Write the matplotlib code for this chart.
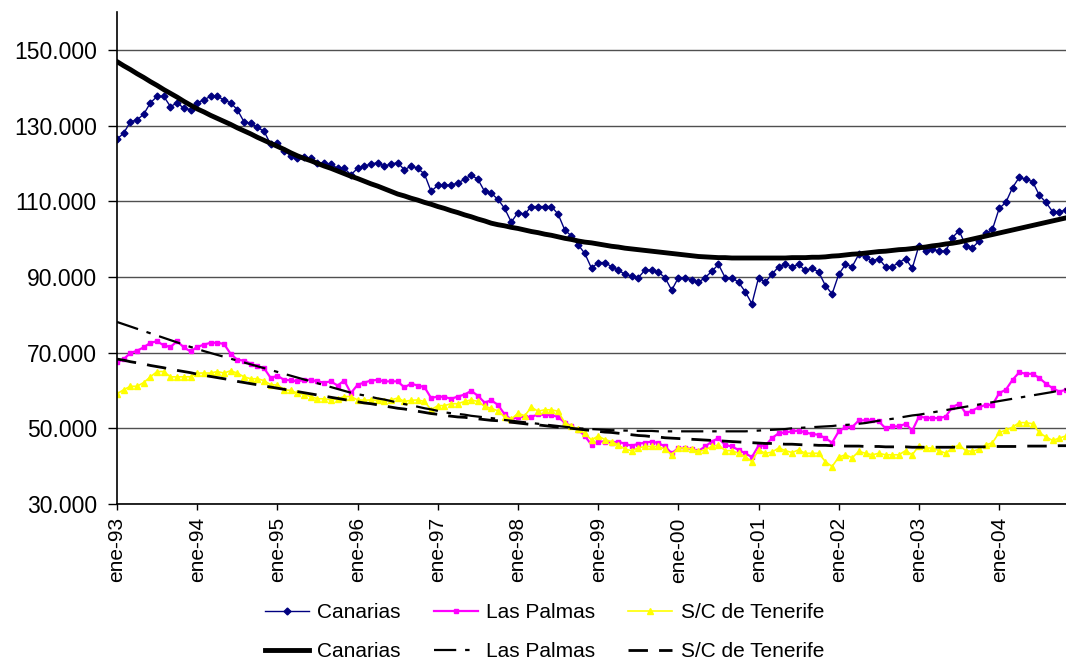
import matplotlib
matplotlib.use("Agg")
import matplotlib.pyplot as plt
import numpy as np

plt.rcParams['font.family'] = ['Liberation Sans', 'DejaVu Sans']

# monthly values (thousands), ene-93 .. nov-04
canarias = [126.4, 128.0, 131.0, 131.5, 133.0, 136.0, 137.7, 137.7, 135.0, 136.0, 134.6, 134.2,
            136.0, 136.8, 137.7, 137.7, 136.8, 136.0, 134.2, 131.0, 130.6, 129.5, 128.5, 125.0,
            125.4, 123.4, 122.0, 121.3, 121.8, 121.3, 120.2, 120.0, 119.8, 118.7, 118.7, 117.0,
            118.7, 119.3, 119.8, 120.2, 119.3, 119.8, 120.2, 118.3, 119.3, 118.7, 117.2, 112.6,
            114.2, 114.2, 114.3, 114.8, 115.8, 116.9, 115.8, 112.6, 112.1, 110.5, 108.1, 104.5,
            107.0, 106.6, 108.6, 108.6, 108.6, 108.6, 106.6, 102.4, 100.8, 98.5, 96.2, 92.3,
            93.8, 93.8, 92.7, 91.8, 90.7, 90.2, 89.8, 91.8, 91.8, 91.3, 89.8, 86.5,
            89.8, 89.8, 89.2, 88.6, 89.8, 91.5, 93.3, 89.8, 89.8, 88.6, 86.1, 82.9,
            89.8, 88.6, 90.7, 92.7, 93.3, 92.7, 93.3, 91.7, 92.3, 91.3, 87.7, 85.5,
            90.7, 93.3, 92.7, 96.0, 95.2, 94.2, 94.8, 92.7, 92.7, 93.8, 94.8, 92.3,
            98.3, 96.8, 97.3, 96.8, 96.8, 100.4, 102.2, 98.3, 97.7, 99.5, 101.5, 102.6,
            108.1, 109.7, 113.6, 116.3, 115.8, 115.2, 111.6, 109.7, 107.2, 107.2, 107.7]

las_palmas = [67.4, 68.3, 69.9, 70.5, 71.4, 72.6, 73.0, 71.9, 71.5, 73.0, 71.4, 70.3,
              71.5, 72.1, 72.6, 72.6, 72.3, 69.7, 68.1, 67.9, 67.1, 66.4, 65.9, 63.3,
              63.9, 62.8, 62.7, 62.4, 62.8, 62.8, 62.4, 62.1, 62.4, 61.3, 62.6, 59.3,
              61.5, 62.1, 62.6, 62.8, 62.4, 62.4, 62.4, 60.8, 61.8, 61.3, 60.9, 58.0,
              58.4, 58.3, 57.8, 58.4, 58.9, 59.9, 58.6, 56.8, 57.4, 56.2, 53.7, 52.3,
              53.0, 53.0, 53.0, 53.7, 53.5, 53.5, 53.0, 51.5, 50.5, 49.6, 48.0, 45.6,
              46.5, 46.5, 46.2, 46.5, 45.9, 45.4, 45.9, 46.2, 46.5, 46.1, 45.2, 43.4,
              44.8, 44.8, 44.5, 44.0, 45.2, 46.5, 47.4, 45.6, 45.2, 44.3, 43.4, 42.4,
              45.4, 45.4, 47.4, 48.7, 48.9, 49.2, 49.4, 48.9, 48.5, 48.3, 47.4, 46.2,
              49.2, 50.3, 50.3, 52.1, 52.1, 52.1, 51.8, 50.0, 50.5, 50.5, 51.2, 49.4,
              53.1, 52.8, 52.7, 52.7, 53.1, 55.6, 56.5, 54.0, 54.7, 55.6, 56.2, 56.2,
              59.3, 60.2, 62.8, 64.8, 64.4, 64.4, 63.3, 61.8, 60.6, 59.7, 60.2]

tenerife = [59.1, 60.2, 61.1, 61.1, 62.1, 63.6, 65.0, 65.0, 63.6, 63.6, 63.6, 63.6,
            64.6, 64.6, 64.6, 65.0, 64.6, 65.2, 64.6, 63.6, 63.1, 63.1, 62.6, 61.5,
            61.5, 60.2, 60.0, 59.3, 58.9, 58.4, 57.8, 57.8, 57.5, 57.8, 58.4, 58.4,
            57.5, 57.4, 57.5, 57.4, 57.1, 57.5, 58.0, 57.1, 57.4, 57.5, 57.1, 54.9,
            56.0, 56.0, 56.5, 56.5, 57.1, 57.5, 57.1, 55.8, 55.3, 54.6, 53.0, 52.4,
            54.0, 53.3, 55.6, 54.5, 54.9, 54.9, 54.5, 51.5, 50.5, 49.8, 48.7, 46.9,
            48.0, 47.0, 46.5, 45.6, 44.5, 44.1, 44.8, 45.2, 45.2, 45.2, 44.5, 43.0,
            44.8, 44.8, 44.5, 43.9, 44.3, 45.2, 45.6, 44.1, 44.1, 43.4, 42.5, 41.2,
            44.3, 43.4, 43.7, 44.8, 44.1, 43.6, 44.3, 43.4, 43.4, 43.4, 41.2, 39.9,
            42.4, 43.0, 42.2, 43.9, 43.4, 43.0, 43.4, 43.0, 43.0, 43.0, 44.1, 43.0,
            45.4, 44.8, 44.8, 44.1, 43.4, 44.8, 45.6, 44.1, 43.9, 44.5, 45.6, 46.2,
            48.9, 49.5, 50.3, 51.5, 51.5, 51.2, 48.9, 47.7, 46.8, 47.4, 48.0]

# trend series (thousands)
canarias_trend = [146.9, 145.8, 144.8, 143.7, 142.7, 141.6, 140.6, 139.5, 138.5, 137.5, 136.4, 135.4,
                  134.4, 133.6, 132.7, 131.9, 131.1, 130.3, 129.4, 128.6, 127.8, 126.9, 126.1, 125.3,
                  124.5, 123.7, 122.8, 122.0, 121.3, 120.7, 120.0, 119.3, 118.7, 118.0, 117.3, 116.6,
                  116.0, 115.3, 114.6, 114.0, 113.3, 112.6, 111.9, 111.4, 110.8, 110.3, 109.7, 109.2,
                  108.6, 108.1, 107.5, 107.0, 106.4, 105.9, 105.3, 104.8, 104.2, 103.8, 103.5, 103.1,
                  102.8, 102.4, 102.0, 101.7, 101.3, 101.0, 100.6, 100.2, 99.9, 99.5, 99.2, 99.0,
                  98.7, 98.4, 98.1, 97.9, 97.6, 97.4, 97.2, 97.0, 96.8, 96.6, 96.4, 96.2,
                  96.0, 95.8, 95.6, 95.4, 95.3, 95.2, 95.1, 95.1, 95.0, 95.0, 95.0, 95.0,
                  95.0, 95.0, 95.0, 95.0, 95.0, 95.1, 95.1, 95.1, 95.2, 95.2, 95.3, 95.5,
                  95.6, 95.8, 96.0, 96.1, 96.3, 96.5, 96.7, 96.8, 97.0, 97.2, 97.3, 97.5,
                  97.7, 97.9, 98.2, 98.4, 98.7, 98.9, 99.2, 99.6, 100.0, 100.4, 100.8, 101.2,
                  101.6, 102.0, 102.4, 102.8, 103.2, 103.6, 104.0, 104.4, 104.8, 105.2, 105.6]

las_palmas_trend = [78.1, 77.5, 76.9, 76.3, 75.7, 75.1, 74.5, 73.9, 73.3, 72.7, 72.1, 71.5,
                    71.0, 70.4, 69.9, 69.4, 68.9, 68.4, 67.9, 67.4, 66.9, 66.4, 65.9, 65.4,
                    64.9, 64.4, 63.9, 63.4, 62.9, 62.4, 61.9, 61.4, 60.9, 60.4, 59.9, 59.4,
                    59.0, 58.7, 58.3, 57.9, 57.6, 57.2, 56.8, 56.4, 56.1, 55.7, 55.3, 55.0,
                    54.6, 54.2, 54.0, 53.8, 53.6, 53.3, 53.1, 52.9, 52.7, 52.5, 52.2, 52.0,
                    51.8, 51.6, 51.4, 51.2, 51.0, 50.8, 50.6, 50.4, 50.2, 50.0, 49.9, 49.8,
                    49.7, 49.6, 49.5, 49.5, 49.4, 49.4, 49.3, 49.3, 49.3, 49.2, 49.2, 49.2,
                    49.2, 49.2, 49.2, 49.2, 49.2, 49.2, 49.2, 49.2, 49.2, 49.2, 49.2, 49.3,
                    49.4, 49.5, 49.6, 49.7, 49.8, 50.0, 50.1, 50.2, 50.3, 50.4, 50.5, 50.6,
                    50.8, 50.9, 51.0, 51.2, 51.4, 51.7, 52.0, 52.3, 52.5, 52.8, 53.1, 53.4,
                    53.6, 53.9, 54.2, 54.5, 54.8, 55.1, 55.4, 55.7, 56.0, 56.3, 56.6, 56.9,
                    57.2, 57.5, 57.8, 58.1, 58.4, 58.7, 59.0, 59.3, 59.6, 60.0, 60.3]

tenerife_trend = [68.3, 68.0, 67.6, 67.3, 67.0, 66.6, 66.3, 66.0, 65.6, 65.3, 65.0, 64.7,
                  64.3, 64.0, 63.7, 63.4, 63.1, 62.8, 62.4, 62.1, 61.8, 61.5, 61.2, 60.9,
                  60.6, 60.3, 60.0, 59.7, 59.4, 59.1, 58.8, 58.5, 58.2, 57.9, 57.6, 57.3,
                  57.0, 56.7, 56.5, 56.2, 55.9, 55.6, 55.3, 55.1, 54.8, 54.5, 54.2, 53.9,
                  53.7, 53.4, 53.2, 53.0, 52.9, 52.7, 52.5, 52.3, 52.1, 52.0, 51.8, 51.6,
                  51.4, 51.2, 51.0, 50.9, 50.7, 50.5, 50.3, 50.1, 50.0, 49.8, 49.6, 49.4,
                  49.2, 49.0, 48.9, 48.7, 48.5, 48.3, 48.1, 48.0, 47.8, 47.7, 47.5, 47.4,
                  47.3, 47.2, 47.1, 47.0, 46.9, 46.8, 46.7, 46.6, 46.5, 46.4, 46.3, 46.2,
                  46.1, 46.0, 46.0, 45.9, 45.8, 45.8, 45.7, 45.6, 45.6, 45.5, 45.5, 45.4,
                  45.4, 45.3, 45.3, 45.3, 45.2, 45.2, 45.2, 45.1, 45.1, 45.1, 45.1, 45.0,
                  45.0, 45.0, 45.0, 45.0, 45.0, 45.0, 45.1, 45.1, 45.1, 45.1, 45.1, 45.2,
                  45.2, 45.2, 45.2, 45.2, 45.3, 45.3, 45.3, 45.3, 45.3, 45.4, 45.4]

x_labels = ["ene-93", "ene-94", "ene-95", "ene-96", "ene-97", "ene-98",
            "ene-99", "ene-00", "ene-01", "ene-02", "ene-03", "ene-04"]
y_ticks = [30, 50, 70, 90, 110, 130, 150]
y_labels = ["30.000", "50.000", "70.000", "90.000", "110.000", "130.000", "150.000"]

months = np.arange(len(canarias))

fig = plt.figure(figsize=(10.66, 6.62), dpi=100)
ax = fig.add_axes([117/1066, 1 - 504/662, 1 - 117/1066, (504 - 12)/662])

# monthly series
l1, = ax.plot(months, canarias, color="#000080", lw=1, marker="D", ms=3.5, label="Canarias")
l2, = ax.plot(months, las_palmas, color="#FF00FF", lw=1.6, marker="s", ms=3, label="Las Palmas")
l3, = ax.plot(months, tenerife, color="#FFFF00", lw=1.2, marker="^", ms=4.5, label="S/C de Tenerife")

# trends
t1, = ax.plot(months, canarias_trend, color="black", lw=3.5, label="Canarias")
t2, = ax.plot(months, las_palmas_trend, color="black", lw=1.6,
              dashes=[10, 4, 2, 4], label="Las Palmas")
t3, = ax.plot(months, tenerife_trend, color="black", lw=2, dashes=[7, 4], label="S/C de Tenerife")

ax.set_xlim(0, 142)
ax.set_ylim(30, 160)
ax.set_yticks(y_ticks)
ax.set_yticklabels(y_labels)
ax.set_xticks(np.arange(0, 12 * len(x_labels), 12))
ax.set_xticklabels(x_labels, rotation=90)
ax.tick_params(axis="x", labelsize=15, direction="out", length=4.5, width=1, pad=5)
ax.tick_params(axis="y", labelsize=16.5, direction="out", length=6.5, width=1, pad=8)

ax.grid(axis="y", color="#505050", lw=1)
ax.set_axisbelow(True)
ax.spines["top"].set_visible(False)
ax.spines["right"].set_visible(False)
ax.spines["left"].set_linewidth(1.2)
ax.spines["bottom"].set_linewidth(1.2)

fig.legend([l1, t1, l2, t2, l3, t3],
           ["Canarias", "Canarias", "Las Palmas", "Las Palmas", "S/C de Tenerife", "S/C de Tenerife"],
           ncol=3, loc="upper left", bbox_to_anchor=(265/1066, 1 - 603/662),
           frameon=False, fontsize=15, handlelength=2.1, handletextpad=0.4,
           columnspacing=1.6, labelspacing=0.95, borderaxespad=0, borderpad=0)

fig.savefig("out.png", dpi=100)
